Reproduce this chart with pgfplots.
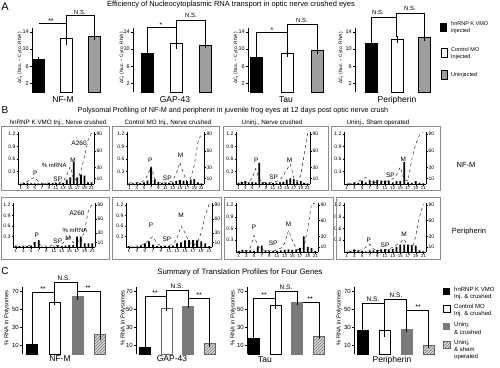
\documentclass[border=0pt]{standalone}
\usepackage{fontspec}
\setmainfont{Liberation Sans}
\usepackage{pgfplots}
\usepackage{pgfplotstable}
\pgfplotsset{compat=1.18}
\usetikzlibrary{patterns}
\newcommand{\fs}[1]{\fontsize{#1}{#1}\selectfont}
\definecolor{agray}{gray}{0.62}
\definecolor{cgray}{gray}{0.48}
\definecolor{hgray}{gray}{0.85}

\pgfplotsset{
 errb/.style={error bars/.cd, y dir=both, y explicit, error bar style={black, line width=0.4pt}, error mark options={black, mark size=1.5pt, line width=0.4pt}},
 Abar/.style={scale only axis, anchor=south west, ymin=0, ymax=15, height=64.5pt, axis x line=none, axis y line=left, axis line style={-, line width=0.5pt}, ytick={2,6,10,14}, tick align=outside, major tick length=2pt, tick style={black, line width=0.4pt}, yticklabel style={font=\fs{5.5}, inner sep=1pt}, clip=false, /pgf/number format/assume math mode=true},
 Cbar/.style={scale only axis, anchor=south west, ymin=0, ymax=75, height=67.5pt, axis x line=none, axis y line=left, axis line style={-, line width=0.5pt}, ytick={10,30,50,70}, tick align=outside, major tick length=2pt, tick style={black, line width=0.4pt}, yticklabel style={font=\fs{6}, inner sep=1pt}, clip=false, /pgf/number format/assume math mode=true},
 Bleft/.style={scale only axis, anchor=south west, xmin=0.3, xmax=21.7, ymin=0, ymax=1.25, axis x line=bottom, axis y line=left, axis line style={-, line width=0.4pt}, xtick={1,3,...,21}, ytick={0.3,0.6,0.9,1.2}, yticklabels={0.3,0.6,0.9,1.2}, tick align=outside, major tick length=1.5pt, tick style={black, line width=0.3pt}, xticklabel style={font=\fs{4.4}, inner sep=0.5pt}, yticklabel style={font=\fs{5}, inner sep=1pt}, clip=false, /pgf/number format/assume math mode=true},
 Bright/.style={scale only axis, anchor=south west, xmin=0.3, xmax=21.7, ymin=0, ymax=93.75, axis x line=none, axis y line=right, axis line style={-, line width=0.4pt}, ytick={10,30,60,90}, tick align=outside, major tick length=1.5pt, tick style={black, line width=0.3pt}, yticklabel style={font=\fs{5}, inner sep=1pt}, clip=false, /pgf/number format/assume math mode=true},
}

% Polysome profiles: f = fraction, a = A260 (left axis), m = % mRNA (right axis)
\pgfplotstableread{
f a m
1 0.02 0
2 0.03 2
3 0.06 2
4 0.12 1
5 0.16 1
6 0.06 1
7 0.02 1
8 0.02 1
9 0.02 2
10 0.02 2
11 0.03 2
12 0.04 2
13 0.06 2
14 0.20 8
15 0.42 12
16 0.10 40
17 0.12 12
18 0.30 17
19 0.65 15
20 1.05 3
21 1.22 3
}\tRa
\pgfplotstableread{
f a m
1 0.03 1
2 0.03 1
3 0.04 2
4 0.04 2
5 0.08 3
6 0.20 6
7 0.42 30
8 0.12 8
9 0.04 3
10 0.03 2
11 0.03 2
12 0.04 2
13 0.08 3
14 0.25 5
15 0.52 7
16 0.25 6
17 0.05 5
18 0.15 8
19 0.45 9
20 1.00 3
21 1.22 1
}\tRb
\pgfplotstableread{
f a m
1 0.02 2
2 0.03 4
3 0.04 5
4 0.05 3
5 0.15 4
6 0.37 3
7 0.12 38
8 0.04 3
9 0.04 2
10 0.04 2
11 0.05 2
12 0.06 2
13 0.10 3
14 0.20 4
15 0.35 8
16 0.48 10
17 0.15 9
18 0.06 4
19 0.20 5
20 0.70 2
21 1.22 1
}\tRc
\pgfplotstableread{
f a m
1 0.02 0
2 0.02 1
3 0.03 2
4 0.06 2
5 0.12 6
6 0.16 3
7 0.08 6
8 0.04 6
9 0.04 7
10 0.05 6
11 0.06 6
12 0.08 6
13 0.12 3
14 0.22 5
15 0.41 5
16 0.10 40
17 0.08 3
18 0.60 2
19 0.95 5
20 1.18 2
21 1.24 1
}\tRd
\pgfplotstableread{
f a m
1 0.03 3
2 0.03 2
3 0.03 2
4 0.04 2
5 0.06 3
6 0.13 10
7 0.08 15
8 0.03 1
9 0.03 1
10 0.03 1
11 0.04 1
12 0.04 2
13 0.08 2
14 0.18 3
15 0.33 4
16 0.12 4
17 0.20 22
18 0.12 22
19 0.50 8
20 1.05 8
21 1.22 8
}\tPa
\pgfplotstableread{
f a m
1 0.03 2
2 0.03 1
3 0.03 1
4 0.04 3
5 0.10 8
6 0.20 12
7 0.30 5
8 0.10 2
9 0.03 2
10 0.03 2
11 0.04 2
12 0.08 3
13 0.25 8
14 0.60 10
15 0.40 14
16 0.15 15
17 0.05 15
18 0.10 14
19 0.40 12
20 0.90 8
21 1.22 2
}\tPb
\pgfplotstableread{
f a m
1 0.02 2
2 0.03 4
3 0.03 3
4 0.10 3
5 0.42 2
6 0.15 10
7 0.06 12
8 0.04 3
9 0.03 2
10 0.03 2
11 0.05 2
12 0.10 3
13 0.22 4
14 0.55 5
15 0.30 4
16 0.08 5
17 0.05 8
18 0.10 30
19 0.60 10
20 1.22 8
21 1.25 2
}\tPc
\pgfplotstableread{
f a m
1 0.02 0
2 0.03 2
3 0.03 5
4 0.04 3
5 0.06 2
6 0.12 1
7 0.20 3
8 0.08 3
9 0.04 4
10 0.05 5
11 0.06 5
12 0.08 5
13 0.12 6
14 0.18 10
15 0.25 14
16 0.33 14
17 0.12 14
18 0.04 13
19 0.40 12
20 0.90 3
21 1.22 1
}\tPd

\newcommand{\Bpanel}[6]{%
 \begin{axis}[Bleft, at={(#1pt,-#2pt)}, width=#3pt, height=#4pt]
 \addplot[black, dashed, line width=0.4pt] table[x=f,y=a]{#5};
 #6
 \end{axis}
 \begin{axis}[Bright, at={(#1pt,-#2pt)}, width=#3pt, height=#4pt]
 \addplot[ybar, fill=black, draw=none, bar width=1.8pt] table[x=f,y=m]{#5};
 \end{axis}}
\newcommand{\lab}[3]{\node[font=\fs{#3}, inner sep=0pt] at (axis cs:#1) {#2};}

\begin{document}
\begin{tikzpicture}
\useasboundingbox (0,0) rectangle (500pt,-367pt);

% ---------------- Panel A ----------------
\begin{axis}[Abar, at={(32pt,-92pt)}, width=73pt, xmin=0.768, xmax=3.375]
\addplot[ybar, bar shift=0pt, bar width=12pt, fill=black, draw=black, line width=0.4pt, errb] coordinates {(1,7.6) +- (0,0.2)};
\addplot[ybar, bar shift=0pt, bar width=12pt, fill=white, draw=black, line width=0.4pt, errb] coordinates {(2,12.4) +- (0,1.2)};
\addplot[ybar, bar shift=0pt, bar width=12pt, fill=agray, draw=black, line width=0.4pt, errb] coordinates {(3,13.0) +- (0,0.6)};
\end{axis}
\begin{axis}[Abar, at={(133pt,-92pt)}, width=82pt, xmin=0.517, xmax=3.345]
\addplot[ybar, bar shift=0pt, bar width=12pt, fill=black, draw=black, line width=0.4pt, errb] coordinates {(1,9.0) +- (0,0.4)};
\addplot[ybar, bar shift=0pt, bar width=12pt, fill=white, draw=black, line width=0.4pt, errb] coordinates {(2,11.3) +- (0,1.0)};
\addplot[ybar, bar shift=0pt, bar width=12pt, fill=agray, draw=black, line width=0.4pt, errb] coordinates {(3,10.9) +- (0,0.4)};
\end{axis}
\begin{axis}[Abar, at={(248pt,-92pt)}, width=79pt, xmin=0.72, xmax=3.33]
\addplot[ybar, bar shift=0pt, bar width=12pt, fill=black, draw=black, line width=0.4pt, errb] coordinates {(1,8.0) +- (0,0.2)};
\addplot[ybar, bar shift=0pt, bar width=12pt, fill=white, draw=black, line width=0.4pt, errb] coordinates {(2,9.1) +- (0,0.5)};
\addplot[ybar, bar shift=0pt, bar width=12pt, fill=agray, draw=black, line width=0.4pt, errb] coordinates {(3,9.8) +- (0,0.5)};
\end{axis}
\begin{axis}[Abar, at={(355pt,-92pt)}, width=79pt, xmin=0.396, xmax=3.377]
\addplot[ybar, bar shift=0pt, bar width=12pt, fill=black, draw=black, line width=0.4pt, errb] coordinates {(1,11.3) +- (0,0.5)};
\addplot[ybar, bar shift=0pt, bar width=12pt, fill=white, draw=black, line width=0.4pt, errb] coordinates {(2,12.2) +- (0,0.5)};
\addplot[ybar, bar shift=0pt, bar width=12pt, fill=agray, draw=black, line width=0.4pt, errb] coordinates {(3,12.8) +- (0,0.6)};
\end{axis}

% ---------------- Panel B ----------------
\Bpanel{18}{184}{76}{52}{\tRa}{\lab{5.2,0.27}{P}{6.5}\lab{11.5,0.12}{SP}{6.5}\lab{15.8,0.56}{M}{6.5}\lab{10.5,0.44}{\% mRNA}{6}\lab{17.5,0.98}{A260}{6.5}}
\Bpanel{127}{184}{77}{52}{\tRb}{\lab{6.8,0.56}{P}{6.5}\lab{11.5,0.14}{SP}{6.5}\lab{15.2,0.7}{M}{6.5}}
\Bpanel{236}{184}{74}{52}{\tRc}{\lab{6.2,0.56}{P}{6.5}\lab{11.2,0.16}{SP}{6.5}\lab{15.8,0.58}{M}{6.5}}
\Bpanel{344}{184}{82}{52}{\tRd}{\lab{12.4,0.2}{SP}{6.5}\lab{15.8,0.6}{M}{6.5}}
\Bpanel{13}{247}{82}{43.75}{\tPa}{\lab{6.5,0.33}{P}{6.5}\lab{12,0.17}{SP}{6.5}\lab{14.7,0.24}{M}{6.5}\lab{16.5,0.47}{\% mRNA}{6}\lab{17,0.97}{A260}{6.5}}
\Bpanel{126}{247}{86}{43.75}{\tPb}{\lab{6.5,0.62}{P}{6.5}\lab{10.5,0.22}{SP}{6.5}\lab{14,0.9}{M}{6.5}}
\Bpanel{236}{252}{82}{49}{\tPc}{\lab{5,0.62}{P}{6.5}\lab{10,0.22}{SP}{6.5}\lab{14,0.7}{M}{6.5}}
\Bpanel{344}{252}{82}{49}{\tPd}{\lab{6.8,0.3}{P}{6.5}\lab{11,0.18}{SP}{6.5}\lab{16,0.45}{M}{6.5}}

% ---------------- Panel C ----------------
\begin{axis}[Cbar, at={(22pt,-354pt)}, width=88pt, xmin=0.56, xmax=4.44]
\addplot[ybar, bar shift=0pt, bar width=11pt, fill=black, draw=black, line width=0.4pt, errb] coordinates {(1,10.8) +- (0,1.2)};
\addplot[ybar, bar shift=0pt, bar width=11pt, fill=white, draw=black, line width=0.4pt, errb] coordinates {(2,57.4) +- (0,1.5)};
\addplot[ybar, bar shift=0pt, bar width=11pt, fill=cgray, draw=cgray, line width=0.4pt, errb] coordinates {(3,63.7) +- (0,2.0)};
\addplot[ybar, bar shift=0pt, bar width=11pt, fill=hgray, draw=black!60, line width=0.4pt, postaction={pattern=north east lines, pattern color=black!55}, errb] coordinates {(4,21.9) +- (0,5.0)};
\end{axis}
\begin{axis}[Cbar, at={(136pt,-354pt)}, width=82pt, xmin=0.585, xmax=4.399]
\addplot[ybar, bar shift=0pt, bar width=11pt, fill=black, draw=black, line width=0.4pt, errb] coordinates {(1,8.1) +- (0,1.0)};
\addplot[ybar, bar shift=0pt, bar width=11pt, fill=white, draw=black!60, line width=0.4pt, errb] coordinates {(2,50.7) +- (0,1.0)};
\addplot[ybar, bar shift=0pt, bar width=11pt, fill=cgray, draw=cgray, line width=0.4pt, errb] coordinates {(3,53.3) +- (0,1.0)};
\addplot[ybar, bar shift=0pt, bar width=11pt, fill=hgray, draw=black!60, line width=0.4pt, postaction={pattern=north east lines, pattern color=black!55}, errb] coordinates {(4,11.9) +- (0,2.0)};
\end{axis}
\begin{axis}[Cbar, at={(247pt,-354pt)}, width=82pt, xmin=0.70, xmax=4.461]
\addplot[ybar, bar shift=0pt, bar width=11pt, fill=black, draw=black, line width=0.4pt, errb] coordinates {(1,17.4) +- (0,2.0)};
\addplot[ybar, bar shift=0pt, bar width=11pt, fill=white, draw=black, line width=0.4pt, errb] coordinates {(2,54.4) +- (0,2.5)};
\addplot[ybar, bar shift=0pt, bar width=11pt, fill=cgray, draw=cgray, line width=0.4pt, errb] coordinates {(3,58.1) +- (0,2.0)};
\addplot[ybar, bar shift=0pt, bar width=11pt, fill=hgray, draw=black!60, line width=0.4pt, postaction={pattern=north east lines, pattern color=black!55}, errb] coordinates {(4,19.3) +- (0,1.0)};
\end{axis}
\begin{axis}[Cbar, at={(354pt,-354pt)}, width=84pt, xmin=0.614, xmax=4.432]
\addplot[ybar, bar shift=0pt, bar width=11pt, fill=black, draw=black, line width=0.4pt, errb] coordinates {(1,25.9) +- (0,0.8)};
\addplot[ybar, bar shift=0pt, bar width=11pt, fill=white, draw=black, line width=0.4pt, errb] coordinates {(2,25.9) +- (0,5.0)};
\addplot[ybar, bar shift=0pt, bar width=11pt, fill=cgray, draw=cgray, line width=0.4pt, errb] coordinates {(3,27.4) +- (0,1.5)};
\addplot[ybar, bar shift=0pt, bar width=11pt, fill=hgray, draw=black!60, line width=0.4pt, postaction={pattern=north east lines, pattern color=black!55}, errb] coordinates {(4,10.0) +- (0,1.5)};
\end{axis}

% ---------------- annotations ----------------
\begin{scope}[x=1pt, y=-1pt]
% Panel A
\node[font=\fs{11}] at (5,7) {A};
\node[font=\fs{7.5}] at (231,5) {Efficiency of Nucleocytoplasmic RNA transport in optic nerve crushed eyes};
\foreach \xx in {20,122,236,341}{\node[rotate=90, font=\fs{4.8}] at (\xx,58) {ΔC\textsubscript{t} (Nuc. – Cyto. RNA)};}
\node[font=\fs{8.5}] at (63,100) {NF-M};
\node[font=\fs{8.5}] at (175,100) {GAP-43};
\node[font=\fs{8.5}] at (286,100) {Tau};
\node[font=\fs{8.5}] at (397,100) {Peripherin};
\begin{scope}[line width=0.5pt]
\draw (38.5,23)--(66.5,23);
\draw (66.5,33)--(66.5,15)--(94.5,15)--(94.5,33);
\draw (147,51)--(147,27)--(176,27);
\draw (176,39)--(176,20)--(205,20)--(205,43);
\draw (256.5,56)--(256.5,32)--(287,32);
\draw (287,50)--(287,24)--(317,24)--(317,47);
\draw (371,41)--(371,17)--(396,17);
\draw (396,37)--(396,13)--(424,13)--(424,34);
\end{scope}
\node[font=\fs{7}] at (51,21) {**};
\node[font=\fs{6}] at (80,12) {N.S.};
\node[font=\fs{7}] at (161,25) {*};
\node[font=\fs{6}] at (191,15) {N.S.};
\node[font=\fs{7}] at (272,30) {*};
\node[font=\fs{6}] at (302,20) {N.S.};
\node[font=\fs{6}] at (378,12) {N.S.};
\node[font=\fs{6}] at (410,8.5) {N.S.};
% legend A
\fill[black] (440,23) rectangle (447,32);
\draw[line width=0.4pt, fill=white] (441,48) rectangle (447,57);
\draw[line width=0.4pt, fill=agray] (441,70) rectangle (447,79);
\begin{scope}[every node/.style={font=\fs{5.5}, anchor=west, inner sep=0pt}]
\node at (451,23.5) {hnRNP K VMO};
\node at (451,31) {injected};
\node at (451,49.5) {Control MO};
\node at (451,57) {Injected};
\node at (451,75) {Uninjected};
\end{scope}

% Panel B
\node[font=\fs{10}] at (5,110) {B};
\node[font=\fs{7.2}] at (233,111) {Polysomal Profiling of NF-M and peripherin in juvenile frog eyes at 12 days post optic nerve crush};
\node[font=\fs{6.3}] at (58,122.5) {hnRNP K VMO Inj., Nerve crushed};
\node[font=\fs{6.3}] at (168,122.5) {Control MO Inj., Nerve crushed};
\node[font=\fs{6.3}] at (272,122.5) {Uninj., Nerve crushed};
\node[font=\fs{6.3}] at (378,122.5) {Uninj., Sham operated};
\node[font=\fs{7.5}] at (466,165) {NF-M};
\node[font=\fs{7.5}] at (469,232) {Peripherin};
\begin{scope}[draw=black!45, line width=0.5pt]
\draw (1,126) rectangle (109,190);
\draw (112,126) rectangle (219,190);
\draw (223,126) rectangle (328,190);
\draw (331,126) rectangle (440,190);
\draw (1,197) rectangle (109,259);
\draw (112,197) rectangle (221,259);
\draw (224,197) rectangle (333,259);
\draw (336,197) rectangle (440,259);
\end{scope}

% Panel C
\node[font=\fs{10}] at (5,271) {C};
\node[font=\fs{7.8}] at (240,272) {Summary of Translation Profiles for Four Genes};
\foreach \xx in {7,123,233,339}{\node[rotate=90, font=\fs{5.8}] at (\xx,318) {\% RNA in Polysomes};}
\node[font=\fs{8.5}] at (60,359) {NF-M};
\node[font=\fs{8.5}] at (172,359) {GAP-43};
\node[font=\fs{8.5}] at (265,360) {Tau};
\node[font=\fs{8.5}] at (392,360) {Peripherin};
\begin{scope}[line width=0.5pt]
\draw (32,343)--(32,292)--(54.6,292);
\draw (54.6,301)--(54.6,282)--(77.3,282)--(77.3,295);
\draw (77.3,291)--(100,291)--(100,329.5);
\draw (145,346)--(145,296)--(166.4,296);
\draw (166.4,307.5)--(166.4,290)--(188,290)--(188,305);
\draw (188,298)--(209.4,298)--(209.4,341.5);
\draw (253.5,336.5)--(253.5,298)--(275.3,298);
\draw (275.3,302.5)--(275.3,291)--(297.1,291)--(297.1,300);
\draw (302.6,302)--(318.9,302)--(318.9,335.7);
\draw (362.5,330)--(362.5,303)--(384.5,303);
\draw (384.5,326)--(384.5,299)--(406.5,299)--(406.5,328);
\draw (406.5,310)--(428.5,310)--(428.5,343.7);
\end{scope}
\node[font=\fs{7}] at (43,289.5) {**};
\node[font=\fs{6.5}] at (64,278.5) {N.S.};
\node[font=\fs{7}] at (88,288.5) {**};
\node[font=\fs{7}] at (155,293.5) {**};
\node[font=\fs{6.5}] at (177,286) {N.S.};
\node[font=\fs{7}] at (199,295.5) {**};
\node[font=\fs{7}] at (264,295.5) {**};
\node[font=\fs{6.5}] at (286,287.5) {N.S.};
\node[font=\fs{7}] at (310,299.5) {**};
\node[font=\fs{6.5}] at (373,299.5) {N.S.};
\node[font=\fs{6.5}] at (396,295.5) {N.S.};
\node[font=\fs{7}] at (418,307.5) {**};
% legend C
\fill[black] (443,288) rectangle (450,295);
\draw[line width=0.4pt, fill=white] (443,305) rectangle (450,312);
\fill[cgray] (443,323) rectangle (450,330);
\draw[line width=0.3pt, draw=black!60, fill=hgray, postaction={pattern=north east lines, pattern color=black!55}] (443,341) rectangle (450,348);
\begin{scope}[every node/.style={font=\fs{6}, anchor=west, inner sep=0pt}]
\node at (454,289) {hnRNP K VMO};
\node at (454,296.5) {Inj. \& crushed};
\node at (454,306.5) {Control MO};
\node at (454,314) {Inj. \& crushed};
\node at (454,324.5) {Uninj.};
\node at (454,332) {\& crushed};
\node at (454,342.5) {Uninj.};
\node at (454,349.5) {\& sham};
\node at (454,356.5) {operated};
\end{scope}
\end{scope}
\end{tikzpicture}
\end{document}
